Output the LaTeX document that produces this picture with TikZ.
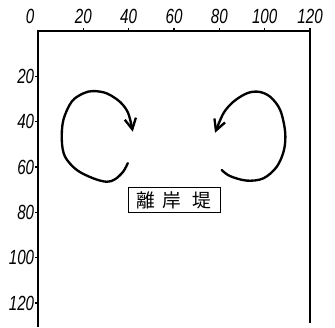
\documentclass[tikz,border=0pt]{standalone}
\usepackage{fontspec}
\newfontfamily\cjk{Noto Sans CJK JP}
\newfontfamily\hand{Liberation Sans}
\usetikzlibrary{arrows.meta}
\tikzset{
	frame/.style={line width=1.3pt},
	eddy/.style={line width=2pt, line cap=round, line join=round, -{Straight Barb[length=3.2mm,width=3.4mm,line width=2pt]}},
	numlabel/.style={font=\hand\itshape\fontsize{17.5}{17.5}\selectfont, inner sep=0pt}
}
\newcommand{\handnum}[1]{\scalebox{0.74}[1]{#1}}

\begin{document}
\begin{tikzpicture}[x=0.068cm, y=-0.068cm]
			%%%%% START %%%%%
			\useasboundingbox (-16.76, -13.67) rectangle (131.0, 130.6);
			
			% frame: top edge with ticks, sides running off the bottom
			\draw[frame] (0, 130.6) -- (0, 0) -- (120, 0) -- (120, 128.8);
			\foreach \v in {20,40,...,120} {
				\draw[frame] (\v, 0) -- (\v, -1.4);
				\draw[frame] (0, \v) -- (-1.4, \v);
			}
			
			% scale numbers
			\node[numlabel] (top0) at (-3.5, -6.6) {\handnum{0}};
			\foreach \v in {20,40,...,120}
				\node[numlabel] (top\v) at (\v, -6.6) {\handnum{\v}};
			\foreach \v in {20,40,...,120}
				\node[numlabel, anchor=east] (side\v) at (-1.6, \v) {\handnum{\v}};
			
			% left eddy
			\draw[eddy] plot[smooth, tension=0.55] coordinates {
				(39.6, 58.3) (37.6, 62.0) (34.0, 65.4) (30.3, 66.5) (24.4, 65.0)
				(17.1, 61.3) (11.9, 55.4) (10.5, 48.1) (11.2, 39.2) (14.9, 31.1)
				(20.0, 27.5) (24.4, 26.5) (30.3, 27.5) (36.2, 31.3) (39.8, 36.3) (41.8, 44.4)};
			
			% right eddy
			\draw[eddy] plot[smooth, tension=0.55] coordinates {
				(81.0, 61.3) (84.7, 64.0) (92.1, 66.0) (99.4, 65.0) (105.3, 59.9)
				(108.5, 52.5) (109.0, 44.4) (106.8, 34.8) (102.4, 29.0) (97.3, 26.8)
				(92.1, 27.5) (86.2, 31.2) (81.8, 36.3) (78.1, 44.9)};
			
			% breakwater
			\node[draw, line width=0.8pt, minimum width=2.76cm, minimum height=0.75cm, inner sep=0pt,
				font=\cjk\fontsize{16}{16}\selectfont] (bw) at (60, 74.5) {離\hspace{0.35em}岸\hspace{0.6em}堤};
			
			%%%%% END %%%%%
		\end{tikzpicture}
\end{document}
